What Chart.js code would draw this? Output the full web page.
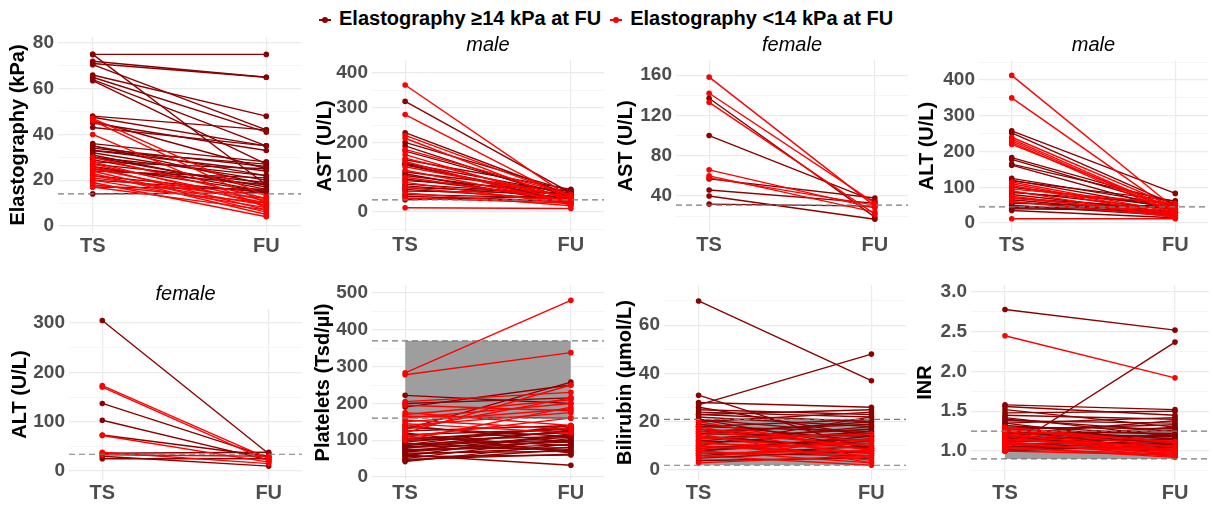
<!DOCTYPE html>
<html>
<head>
<meta charset="utf-8">
<script src="https://cdn.jsdelivr.net/npm/chart.js@4.4.1/dist/chart.umd.min.js"></script>
<style>
  body { margin: 0; background: #fff; }
  #wrap { position: relative; width: 1213px; height: 505px; overflow: hidden; font-family: 'Liberation Sans', Arial, sans-serif; }
  #wrap canvas { position: absolute; }
  #legend { position: absolute; left: 319px; top: 6px; font-weight: bold; font-size: 20px; line-height: 24px; color: #000; white-space: nowrap; }
  .key { display: inline-block; position: relative; width: 12px; height: 2px; vertical-align: middle; margin-right: 8px; }
  .key::after { content: ''; position: absolute; left: 3px; top: -2px; width: 6px; height: 6px; border-radius: 50%; background: inherit; }
  .key.second { margin-left: 9px; }
</style>
</head>
<body>
<div id="wrap">
  <div id="legend"><span class="key" style="background:#8b0000"></span>Elastography ≥14 kPa at FU<span class="key second" style="background:#ff0000"></span>Elastography &lt;14 kPa at FU</div>
</div>
<script>
const CATEGORIES = ['TS', 'FU'];
const DARK_RED = '#8b0000';
const RED = '#ff0000';

// "High" = elastography >=14 kPa at FU, "Low" = <14 kPa at FU

// Elastography (kPa)
const elastoHighTS = [75, 75, 72, 71, 70.5, 66, 65, 64, 63.5, 48, 47.5, 46, 45, 43, 36, 35, 34, 33, 32, 31, 30, 29, 28, 27, 26, 25, 24, 22, 20, 17, 14, 33, 30, 35];
const elastoHighFU = [75, 18, 65, 65, 42, 48, 41, 35, 27, 42, 35, 25, 33, 35, 28, 22, 26, 27, 20, 16, 17, 15, 25, 19, 15, 18, 21, 14.5, 15, 16, 14.5, 24, 22, 18];
const elastoLowTS = [47, 46, 40, 30, 28, 27, 26, 25, 24, 22, 21, 20, 19, 18, 17, 23];
const elastoLowFU = [13, 10, 8, 12, 9, 11, 7, 10, 6, 9, 12, 8, 4, 10, 7, 5];

// AST (U/L), male
const astMaleHighTS = [318, 228, 200, 190, 175, 150, 140, 135, 115, 105, 95, 90, 80, 75, 65, 60, 50, 45, 35, 138, 110, 70];
const astMaleHighFU = [55, 48, 60, 35, 45, 65, 52, 40, 58, 45, 38, 62, 50, 42, 36, 55, 40, 30, 45, 30, 25, 55];
const astMaleLowTS = [365, 280, 220, 212, 180, 165, 155, 145, 130, 120, 100, 85, 70, 55, 40, 12];
const astMaleLowFU = [40, 35, 45, 30, 50, 25, 38, 20, 42, 28, 33, 22, 30, 18, 26, 10];

// AST (U/L), female
const astFemaleHighTS = [137, 100, 57, 46, 40, 32];
const astFemaleHighFU = [19, 35, 38, 33, 17, 30];
const astFemaleLowTS = [158, 142, 133, 66, 60, 58];
const astFemaleLowFU = [30, 33, 22, 28, 24, 31];

// ALT (U/L), male
const altMaleHighTS = [258, 252, 183, 178, 165, 162, 125, 120, 100, 85, 80, 70, 65, 55, 50, 45, 40, 35, 118, 88, 60, 42];
const altMaleHighFU = [83, 50, 55, 45, 60, 35, 50, 40, 45, 55, 30, 40, 25, 45, 20, 30, 35, 15, 62, 38, 22, 50];
const altMaleLowTS = [413, 350, 240, 235, 230, 225, 220, 115, 110, 105, 95, 90, 75, 70, 60, 12];
const altMaleLowFU = [40, 30, 45, 35, 30, 25, 40, 30, 25, 20, 55, 15, 20, 28, 18, 12];

// ALT (U/L), female
const altFemaleHighTS = [305, 137, 103, 73, 36, 30, 25];
const altFemaleHighFU = [35, 28, 22, 30, 38, 10, 25];
const altFemaleLowTS = [173, 170, 72, 38, 33];
const altFemaleLowFU = [25, 20, 18, 15, 30];

// Platelets (Tsd/µl)
const pltHighTS = [222, 200, 190, 130, 125, 115, 105, 100, 95, 90, 85, 80, 75, 70, 65, 60, 55, 50, 45, 42, 110, 120, 135, 88, 78, 68, 58, 48, 72, 92, 102, 62, 82, 140];
const pltHighFU = [200, 215, 250, 258, 140, 130, 120, 110, 135, 100, 125, 95, 80, 115, 70, 32, 60, 105, 75, 90, 85, 65, 110, 140, 128, 100, 118, 62, 88, 72, 132, 80, 108, 95];
const pltLowTS = [283, 278, 205, 195, 170, 165, 160, 150, 140, 120, 110, 175, 130, 145, 155, 100];
const pltLowFU = [480, 338, 230, 180, 210, 160, 200, 185, 175, 250, 160, 140, 215, 120, 130, 190];

// Bilirubin (µmol/L)
const biliHighTS = [70, 27, 31, 28, 25, 24, 23, 22, 21, 20, 19, 18, 17, 16, 15, 14, 13, 12, 11, 10, 9, 8, 7, 6, 5, 4, 26, 23, 21, 18, 15, 12, 10, 8];
const biliHighFU = [37, 48, 8, 26, 23, 22, 20, 18, 15, 24, 12, 21, 10, 19, 14, 9, 17, 11, 16, 7, 13, 12, 6, 10, 8, 5, 14, 25, 9, 16, 20, 18, 22, 14];
const biliLowTS = [20, 18, 17, 16, 15, 14, 13, 12, 11, 10, 9, 8, 7, 6, 5, 3];
const biliLowFU = [8, 5, 12, 10, 3, 7, 15, 4, 9, 6, 11, 3, 8, 2, 13, 6];

// INR
const inrHighTS = [2.78, 1.0, 1.58, 1.56, 1.52, 1.48, 1.45, 1.40, 1.38, 1.35, 1.32, 1.30, 1.28, 1.27, 1.25, 1.24, 1.22, 1.20, 1.18, 1.17, 1.15, 1.13, 1.12, 1.10, 1.08, 1.06, 1.05, 1.02, 1.00, 1.35, 1.42, 1.21, 1.16, 1.26];
const inrHighFU = [2.52, 2.37, 1.52, 1.45, 1.30, 1.50, 1.40, 1.25, 1.35, 1.42, 1.20, 1.28, 1.15, 1.33, 1.22, 1.10, 1.18, 1.26, 1.12, 1.05, 1.20, 1.08, 1.15, 1.02, 1.12, 1.00, 1.10, 1.05, 1.08, 1.10, 1.18, 1.38, 1.30, 1.00];
const inrLowTS = [2.45, 1.30, 1.28, 1.25, 1.22, 1.20, 1.18, 1.15, 1.12, 1.10, 1.08, 1.05, 1.03, 1.26, 1.14, 1.00];
const inrLowFU = [1.92, 1.10, 1.05, 1.00, 0.98, 1.02, 0.95, 1.00, 0.93, 0.97, 1.00, 0.92, 0.96, 1.12, 1.06, 0.95];

// reference limits (dashed) and normal ranges (grey)
const elastoCutoff = [14];
const astMaleRef = [35];
const astFemaleRef = [31];
const altMaleRef = [45];
const altFemaleRef = [34];
const pltRange = [160, 370];
const biliRange = [2, 21];
const inrRange = [0.9, 1.25];

const X_MIN = -0.2, X_MAX = 1.2;

Chart.defaults.font.family = "'Liberation Sans', Arial, sans-serif";

const panels = [
    { yTitle: 'Elastography (kPa)', high: [elastoHighTS, elastoHighFU], low: [elastoLowTS, elastoLowFU], refs: elastoCutoff, band: null,
      min: -3.1, max: 82.6, major: 20, digits: 0, plot: { l: 58, r: 305, t: 37, b: 233 }, left: 0, bottom: 258, titleX: 18 },
    { yTitle: 'AST (U/L)', sub: 'male', high: [astMaleHighTS, astMaleHighFU], low: [astMaleLowTS, astMaleLowFU], refs: astMaleRef, band: null,
      min: -57.6, max: 437, major: 100, digits: 0, plot: { l: 372, r: 608, t: 60, b: 232 }, left: 300, bottom: 258, titleX: 325 },
    { yTitle: 'AST (U/L)', sub: 'female', high: [astFemaleHighTS, astFemaleHighFU], low: [astFemaleLowTS, astFemaleLowFU], refs: astFemaleRef, band: null,
      min: 4.3, max: 175, major: 40, digits: 0, plot: { l: 676, r: 912, t: 60, b: 232 }, left: 604, bottom: 258, titleX: 626 },
    { yTitle: 'ALT (U/L)', sub: 'male', high: [altMaleHighTS, altMaleHighFU], low: [altMaleLowTS, altMaleLowFU], refs: altMaleRef, band: null,
      min: -25, max: 456, major: 100, digits: 0, plot: { l: 979, r: 1212, t: 60, b: 232 }, left: 907, bottom: 258, titleX: 927 },
    { yTitle: 'ALT (U/L)', sub: 'female', high: [altFemaleHighTS, altFemaleHighFU], low: [altFemaleLowTS, altFemaleLowFU], refs: altFemaleRef, band: null,
      min: -18.2, max: 328.4, major: 100, digits: 0, plot: { l: 69, r: 306, t: 309, b: 480 }, left: 0, bottom: 505, titleX: 20 },
    { yTitle: 'Platelets (Tsd/µl)', high: [pltHighTS, pltHighFU], low: [pltLowTS, pltLowFU], refs: pltRange, band: pltRange,
      min: -8, max: 521.7, major: 100, digits: 0, plot: { l: 372, r: 608, t: 285, b: 480 }, left: 300, bottom: 505, titleX: 323 },
    { yTitle: 'Bilirubin (µmol/L)', high: [biliHighTS, biliHighFU], low: [biliLowTS, biliLowFU], refs: biliRange, band: biliRange,
      min: -4.1, max: 76.6, major: 20, digits: 0, plot: { l: 664, r: 910, t: 285, b: 480 }, left: 600, bottom: 505, titleX: 625 },
    { yTitle: 'INR', high: [inrHighTS, inrHighFU], low: [inrLowTS, inrLowFU], refs: inrRange, band: inrRange,
      min: 0.635, max: 3.088, major: 0.5, digits: 1, plot: { l: 971, r: 1213, t: 285, b: 480 }, left: 907, bottom: 505, titleX: 925 }
];

function isMajor(v, major) {
    const r = v / major;
    return Math.abs(r - Math.round(r)) < 1e-6;
}

function pairLine(ts, fu, color, order) {
    return {
        data: [{ x: 0, y: ts }, { x: 1, y: fu }],
        borderColor: color,
        backgroundColor: color,
        borderWidth: 1.4,
        pointRadius: 2.8,
        pointBorderWidth: 0,
        order
    };
}

function refLine(y) {
    return {
        data: [{ x: X_MIN, y }, { x: X_MAX, y }],
        borderColor: '#7a7a7a',
        borderWidth: 1.2,
        borderDash: [6, 4],
        pointRadius: 0,
        order: 0
    };
}

function rangeBand(lo, hi) {
    return {
        data: [{ x: 0, y: hi }, { x: 1, y: hi }],
        borderWidth: 0,
        pointRadius: 0,
        backgroundColor: '#9e9e9e',
        fill: { value: lo },
        order: 3
    };
}

function makePanel(p) {
    const wrap = document.getElementById('wrap');
    const topSpace = p.sub ? 27 : 18;
    const top = p.plot.t - topSpace;
    const w = p.plot.r - p.left;
    const h = p.bottom - top;
    const canvas = document.createElement('canvas');
    canvas.width = w;
    canvas.height = h;
    canvas.style.left = p.left + 'px';
    canvas.style.top = top + 'px';
    canvas.style.width = w + 'px';
    canvas.style.height = h + 'px';
    wrap.appendChild(canvas);

    const axisW = p.plot.l - p.left;
    const axisH = p.bottom - p.plot.b;
    const minor = p.major / 2;

    const datasets = [];
    if (p.band) datasets.push(rangeBand(p.band[0], p.band[1]));
    p.high[0].forEach((v, i) => datasets.push(pairLine(v, p.high[1][i], DARK_RED, 2)));
    p.low[0].forEach((v, i) => datasets.push(pairLine(v, p.low[1][i], RED, 1)));
    p.refs.forEach(y => datasets.push(refLine(y)));

    new Chart(canvas, {
        type: 'line',
        data: { datasets },
        options: {
            responsive: false,
            animation: false,
            events: [],
            layout: { padding: { top: p.sub ? 0 : topSpace, left: 0, right: 0, bottom: 0 } },
            plugins: {
                legend: { display: false },
                tooltip: { enabled: false },
                title: {
                    display: !!p.sub,
                    text: p.sub || '',
                    fullSize: false,
                    color: '#000',
                    font: { size: 20, style: 'italic', weight: 'normal' },
                    padding: { top: 0, bottom: 3 }
                }
            },
            scales: {
                x: {
                    type: 'linear',
                    min: X_MIN,
                    max: X_MAX,
                    afterBuildTicks: axis => { axis.ticks = [{ value: 0 }, { value: 1 }]; },
                    afterFit: axis => { axis.height = axisH; },
                    ticks: {
                        callback: v => CATEGORIES[v],
                        font: { size: 20, weight: 'bold' },
                        color: '#4d4d4d',
                        padding: 1,
                        maxRotation: 0,
                        autoSkip: false
                    },
                    grid: { color: '#ebebeb', lineWidth: 1.2, drawTicks: false },
                    border: { display: false }
                },
                y: {
                    type: 'linear',
                    min: p.min,
                    max: p.max,
                    afterBuildTicks: axis => {
                        const ticks = [];
                        for (let v = Math.ceil(p.min / minor) * minor; v <= p.max + 1e-9; v += minor) {
                            ticks.push({ value: Math.round(v * 1000) / 1000 });
                        }
                        axis.ticks = ticks;
                    },
                    afterFit: axis => { axis.width = axisW; },
                    title: {
                        display: true,
                        text: p.yTitle,
                        color: '#000',
                        font: { size: 20, weight: 'bold' },
                        padding: { top: p.titleX - p.left - 12, bottom: 0 }
                    },
                    ticks: {
                        callback: v => isMajor(v, p.major) ? v.toFixed(p.digits) : '',
                        font: { size: 19, weight: 'bold' },
                        color: '#4d4d4d',
                        padding: 4,
                        autoSkip: false
                    },
                    grid: {
                        color: ctx => isMajor(ctx.tick.value, p.major) ? '#ebebeb' : '#f3f3f3',
                        lineWidth: ctx => isMajor(ctx.tick.value, p.major) ? 1.2 : 0.8,
                        drawTicks: false
                    },
                    border: { display: false }
                }
            }
        }
    });
}

panels.forEach(makePanel);
</script>
</body>
</html>
